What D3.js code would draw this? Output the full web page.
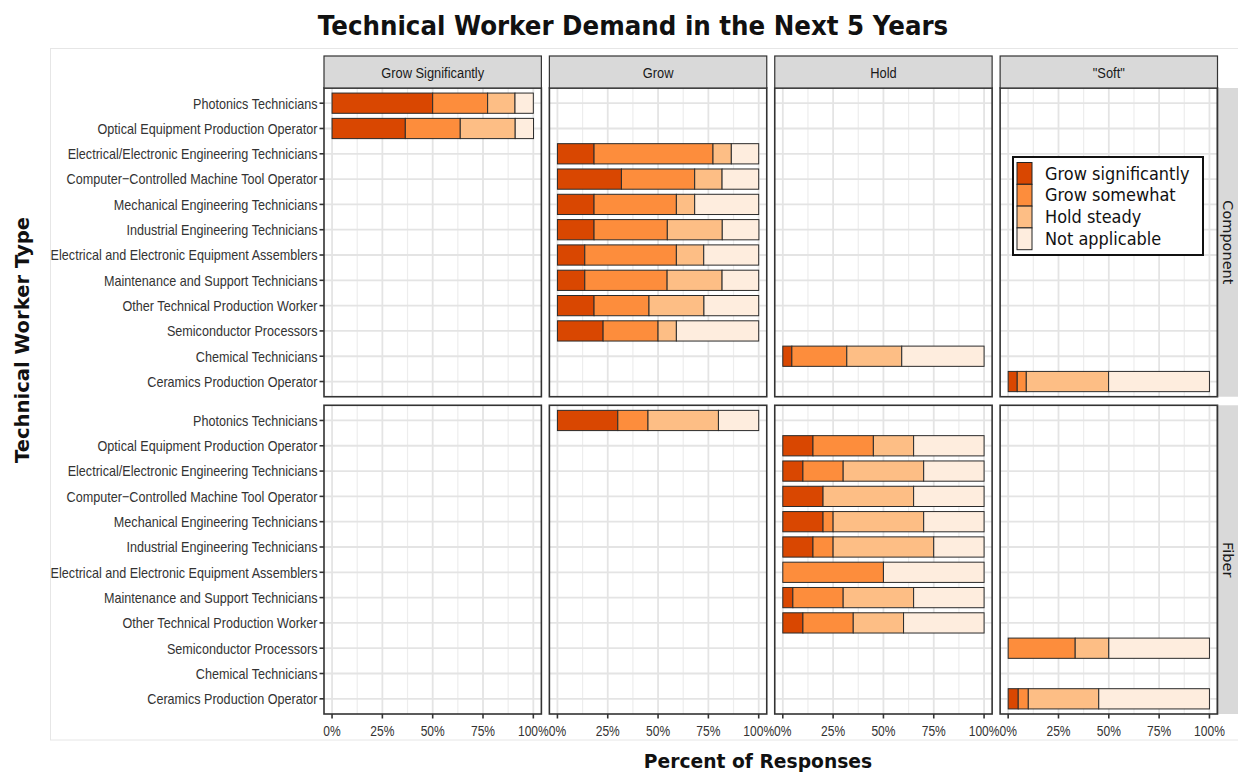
<!DOCTYPE html>
<html>
<head>
<meta charset="utf-8">
<script src="https://cdn.jsdelivr.net/npm/d3@7"></script>
<style>
  html, body { margin: 0; padding: 0; background: #ffffff; }
  svg { display: block; }
</style>
</head>
<body>
<svg id="chart" width="1238" height="772"></svg>
<script>
// ---------- DATA ----------
const categories = [
  "Photonics Technicians",
  "Optical Equipment Production Operator",
  "Electrical/Electronic Engineering Technicians",
  "Computer\u2212Controlled Machine Tool Operator",
  "Mechanical Engineering Technicians",
  "Industrial Engineering Technicians",
  "Electrical and Electronic Equipment Assemblers",
  "Maintenance and Support Technicians",
  "Other Technical Production Worker",
  "Semiconductor Processors",
  "Chemical Technicians",
  "Ceramics Production Operator"
];
const columnFacets = ["Grow Significantly", "Grow", "Hold", "\"Soft\""];
const rowFacets = ["Component", "Fiber"];
const responseLevels = ["Grow significantly", "Grow somewhat", "Hold steady", "Not applicable"];
const levelColors = ["#d94701", "#fd8d3c", "#fdbe85", "#feedde"];
const xTicks = [0, 25, 50, 75, 100];
const xMinorTicks = [12.5, 37.5, 62.5, 87.5];

// one entry per bar
const barRow = ["Component","Component","Component","Component","Component","Component","Component","Component","Component","Component","Component","Component",
  "Fiber","Fiber","Fiber","Fiber","Fiber","Fiber","Fiber","Fiber","Fiber","Fiber","Fiber"];
const barColumn = ["Grow Significantly","Grow Significantly","Grow","Grow","Grow","Grow","Grow","Grow","Grow","Grow","Hold","\"Soft\"",
  "Grow","Hold","Hold","Hold","Hold","Hold","Hold","Hold","Hold","\"Soft\"","\"Soft\""];
const barCategory = [
  categories[0], categories[1], categories[2], categories[3], categories[4], categories[5],
  categories[6], categories[7], categories[8], categories[9], categories[10], categories[11],
  categories[0], categories[1], categories[2], categories[3], categories[4], categories[5],
  categories[6], categories[7], categories[8], categories[9], categories[11]
];
const growSignificantly = [50, 36.4, 18.2, 31.8, 18.2, 18.2, 13.6, 13.6, 18.2, 22.7, 4.5, 4.5,
  30, 15, 10, 20, 20, 15, 0, 5, 10, 0, 5];
const growSomewhat = [27.3, 27.3, 59.1, 36.4, 40.9, 36.4, 45.5, 40.9, 27.3, 27.3, 27.3, 4.5,
  15, 30, 20, 0, 5, 10, 50, 25, 25, 33.3, 5];
const holdSteady = [13.6, 27.3, 9.1, 13.6, 9.1, 27.3, 13.6, 27.3, 27.3, 9.1, 27.3, 40.9,
  35, 20, 40, 45, 45, 50, 0, 35, 25, 16.7, 35];
const notApplicable = [9.1, 9.1, 13.6, 18.2, 31.8, 18.2, 27.3, 18.2, 27.2, 40.9, 40.9, 50.1,
  20, 35, 30, 35, 30, 25, 50, 35, 40, 50, 55];

// ---------- BUILD ----------
const bars = barRow.map((r, i) => ({
  row: r, col: barColumn[i], cat: barCategory[i],
  "Grow significantly": growSignificantly[i],
  "Grow somewhat": growSomewhat[i],
  "Hold steady": holdSteady[i],
  "Not applicable": notApplicable[i]
}));
const series = d3.stack().keys(responseLevels)(bars);

const svg = d3.select("#chart");
const SX = 0.83; // horizontal squeeze of ggplot text

// faint outer frame
svg.append("rect").attr("x", 50.5).attr("y", 48.5).attr("width", 1190).attr("height", 691.5)
  .attr("fill", "none").attr("stroke", "#e6e6e6").attr("stroke-width", 1);

const plotLeft = 324, plotRight = 1217.5, stripTop = 56, panelTop = 88, panelBottom = 714;
const colScale = d3.scaleBand().domain(columnFacets).range([plotLeft, plotRight]).paddingInner(0.0355);
const rowScale = d3.scaleBand().domain(rowFacets).range([panelTop, panelBottom]).paddingInner(0.027);
const pw = colScale.bandwidth(), ph = rowScale.bandwidth();
const padX = pw * 0.04 / 1.08;
const x = d3.scaleLinear().domain([0, 100]).range([padX, pw - padX]);
const y = d3.scalePoint().domain(categories).range([0, ph]).padding(0.6);
const barH = y.step() * 0.8;
const color = d3.scaleOrdinal().domain(responseLevels).range(levelColors);

// panels
rowFacets.forEach(r => {
  columnFacets.forEach(c => {
    const g = svg.append("g").attr("transform", `translate(${colScale(c)},${rowScale(r)})`);
    g.selectAll(".minor").data(xMinorTicks).enter().append("line")
      .attr("x1", d => x(d)).attr("x2", d => x(d)).attr("y1", 0).attr("y2", ph)
      .attr("stroke", "#ededed").attr("stroke-width", 1.2);
    g.selectAll(".major").data(xTicks).enter().append("line")
      .attr("x1", d => x(d)).attr("x2", d => x(d)).attr("y1", 0).attr("y2", ph)
      .attr("stroke", "#e4e4e4").attr("stroke-width", 1.8);
    g.selectAll(".hgrid").data(categories).enter().append("line")
      .attr("x1", 0).attr("x2", pw).attr("y1", d => y(d)).attr("y2", d => y(d))
      .attr("stroke", "#e4e4e4").attr("stroke-width", 1.8);

    series.forEach(s => {
      s.forEach((d, i) => {
        const b = bars[i];
        if (b.row !== r || b.col !== c) return;
        if (d[1] - d[0] <= 0) return;
        g.append("rect")
          .attr("x", x(d[0])).attr("width", x(d[1]) - x(d[0]))
          .attr("y", y(b.cat) - barH / 2).attr("height", barH)
          .attr("fill", color(s.key)).attr("stroke", "#2b2b2b").attr("stroke-width", 1);
      });
    });

    g.append("rect").attr("x", 0).attr("y", 0).attr("width", pw).attr("height", ph)
      .attr("fill", "none").attr("stroke", "#333333").attr("stroke-width", 1.6);
  });
});

// top strips
columnFacets.forEach(c => {
  svg.append("rect").attr("x", colScale(c)).attr("y", stripTop).attr("width", pw).attr("height", panelTop - stripTop)
    .attr("fill", "#d9d9d9").attr("stroke", "#333333").attr("stroke-width", 1.2);
  svg.append("text")
    .attr("transform", `translate(${colScale(c) + pw / 2},${(stripTop + panelTop) / 2}) scale(${SX},1)`)
    .attr("text-anchor", "middle").attr("dy", "0.36em")
    .attr("font-family", "'Liberation Sans', Arial, sans-serif").attr("font-size", 15.5)
    .attr("fill", "#1a1a1a").text(c);
});

// right strips
rowFacets.forEach(r => {
  svg.append("rect").attr("x", plotRight).attr("y", rowScale(r)).attr("width", 30).attr("height", ph)
    .attr("fill", "#d9d9d9");
  svg.append("line").attr("x1", plotRight).attr("x2", plotRight).attr("y1", rowScale(r)).attr("y2", rowScale(r) + ph)
    .attr("stroke", "#333333").attr("stroke-width", 1.6);
  svg.append("text")
    .attr("transform", `translate(${plotRight + 11},${rowScale(r) + ph / 2}) rotate(90)`)
    .attr("text-anchor", "middle").attr("dy", "0.36em")
    .attr("font-family", "'DejaVu Sans', Verdana, sans-serif").attr("font-size", 14.5)
    .attr("fill", "#1a1a1a").text(r);
});

// y axes (left column only)
rowFacets.forEach(r => {
  const g = svg.append("g").attr("transform", `translate(${plotLeft},${rowScale(r)})`);
  categories.forEach(cat => {
    g.append("line").attr("x1", -4.5).attr("x2", 0).attr("y1", y(cat)).attr("y2", y(cat))
      .attr("stroke", "#333333").attr("stroke-width", 1.6);
    g.append("text")
      .attr("transform", `translate(-6.5,${y(cat)}) scale(${SX},1)`)
      .attr("text-anchor", "end").attr("dy", "0.35em")
      .attr("font-family", "'Liberation Sans', Arial, sans-serif").attr("font-size", 15.2)
      .attr("fill", "#333333").text(cat);
  });
});

// x axes (bottom row only)
columnFacets.forEach(c => {
  const g = svg.append("g").attr("transform", `translate(${colScale(c)},${panelBottom})`);
  xTicks.forEach(t => {
    g.append("line").attr("x1", x(t)).attr("x2", x(t)).attr("y1", 0).attr("y2", 4.5)
      .attr("stroke", "#333333").attr("stroke-width", 1.6);
    g.append("text")
      .attr("transform", `translate(${x(t)},${17}) scale(${SX},1)`)
      .attr("text-anchor", "middle").attr("dy", "0.36em")
      .attr("font-family", "'Liberation Sans', Arial, sans-serif").attr("font-size", 14.5)
      .attr("fill", "#333333").text(t + "%");
  });
});

// titles
svg.append("text").attr("transform", "translate(633,35) scale(0.945,1)").attr("text-anchor", "middle")
  .attr("font-family", "'DejaVu Sans', Verdana, sans-serif").attr("font-weight", "bold").attr("font-size", 26)
  .attr("fill", "#111").text("Technical Worker Demand in the Next 5 Years");
svg.append("text").attr("transform", "translate(758,768) scale(0.935,1)").attr("text-anchor", "middle")
  .attr("font-family", "'DejaVu Sans', Verdana, sans-serif").attr("font-weight", "bold").attr("font-size", 20)
  .attr("fill", "#111").text("Percent of Responses");
svg.append("text").attr("transform", "translate(22,340) rotate(-90)").attr("text-anchor", "middle").attr("dy", "0.36em")
  .attr("font-family", "'DejaVu Sans', Verdana, sans-serif").attr("font-weight", "bold").attr("font-size", 19.6)
  .attr("fill", "#111").text("Technical Worker Type");

// legend
const lg = svg.append("g").attr("transform", "translate(1013,157)");
lg.append("rect").attr("x", 0).attr("y", 0).attr("width", 190).attr("height", 98)
  .attr("fill", "#ffffff").attr("stroke", "#111").attr("stroke-width", 2);
const keyH = 21.8;
responseLevels.forEach((lv, i) => {
  lg.append("rect").attr("x", 4).attr("y", 5.5 + i * keyH).attr("width", 15).attr("height", keyH)
    .attr("fill", color(lv)).attr("stroke", "#222").attr("stroke-width", 1);
  lg.append("text")
    .attr("transform", `translate(32,${5.5 + i * keyH + keyH / 2}) scale(0.95,1)`)
    .attr("dy", "0.36em")
    .attr("font-family", "'DejaVu Sans', Verdana, sans-serif").attr("font-size", 17)
    .attr("fill", "#111").text(lv);
});
</script>
</body>
</html>
